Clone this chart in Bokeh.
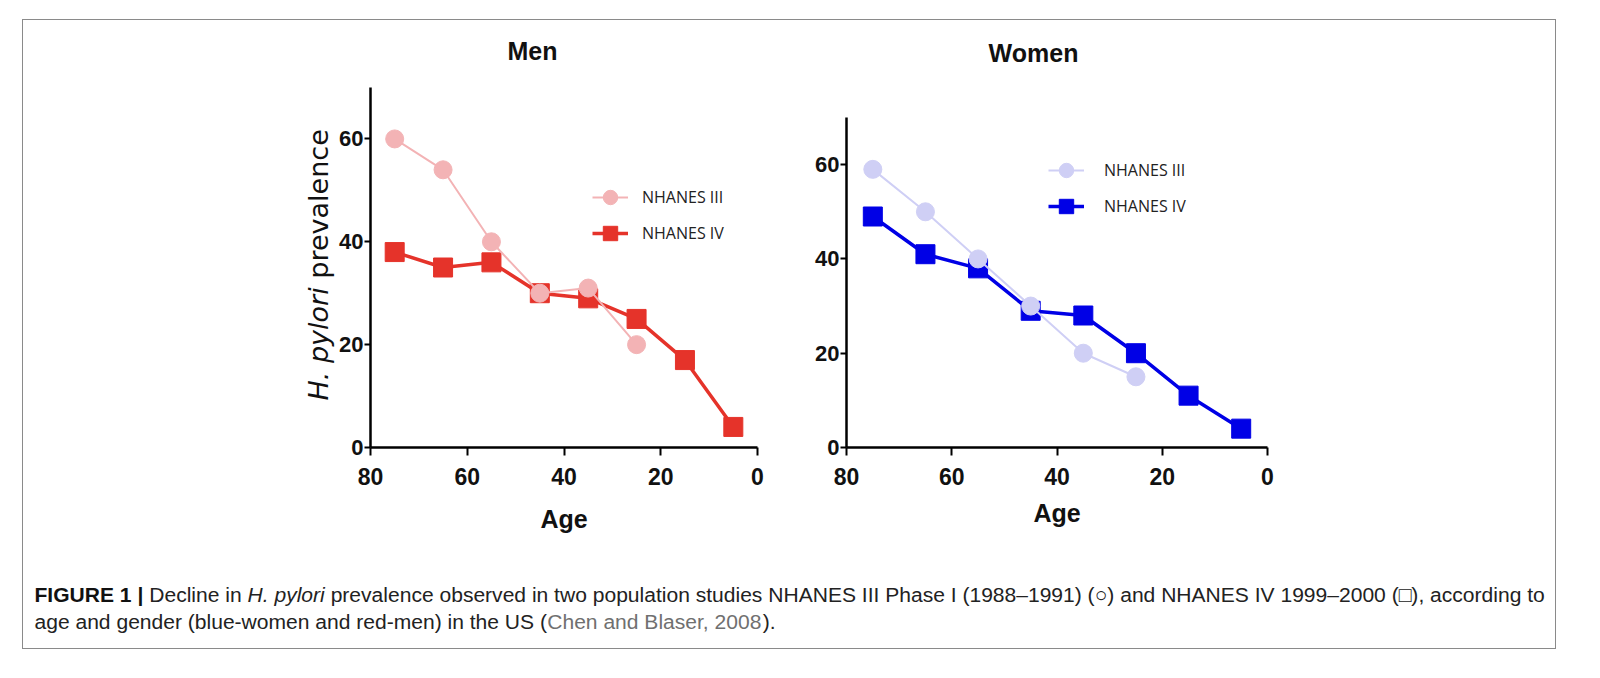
import math
from bokeh.plotting import figure
from bokeh.models import Range1d, FixedTicker, Legend, LegendItem, Label, Spacer
from bokeh.layouts import row, column
from bokeh.embed import file_html
from bokeh.resources import INLINE

# ---------------- data ----------------
ages_iii = [75, 65, 55, 45, 35, 25]
ages_iv = [75, 65, 55, 45, 35, 25, 15, 5]
men_iii = [60, 54, 40, 30, 31, 20]
men_iv = [38, 35, 36, 30, 29, 25, 17, 4]
women_iii = [59, 50, 40, 30, 20, 15]
women_iv = [49, 41, 38, 29, 28, 20, 11, 4]
x_ticks = [80, 60, 40, 20, 0]
y_ticks = [0, 20, 40, 60]
series_names = ["NHANES III", "NHANES IV"]
panel_titles = ["Men", "Women"]
y_title = ["H. pylori", "prevalence"]

TFONT = "Liberation Sans"
FIG_H = 540
BT, BB = 5, 113           # frame top / bottom borders (same for all figures of the row)
FRAME_H = FIG_H - BT - BB


def make_panel(title, v3, v4, c3, c4, geo):
    y_top = 70.0 * FRAME_H / geo["axis_h"]
    p = figure(width=geo["w"], height=FIG_H, output_backend="svg", toolbar_location=None,
               x_range=Range1d(80, 0), y_range=Range1d(0, y_top),
               min_border_left=geo["bl"], min_border_right=geo["br"],
               min_border_top=BT, min_border_bottom=BB)
    p.outline_line_color = None
    p.grid.visible = False
    p.background_fill_color = "white"
    p.border_fill_color = "white"

    for ax in (p.xaxis[0], p.yaxis[0]):
        ax.axis_line_width = 2.5
        ax.axis_line_color = "black"
        ax.major_tick_line_width = 2
        ax.major_tick_line_color = "black"
        ax.major_tick_in = 0
        ax.minor_tick_line_color = None
        ax.major_label_text_font = TFONT
        ax.major_label_text_font_style = "bold"
        ax.major_label_text_color = "#111111"
    p.xaxis.major_label_text_font_size = "23px"
    p.yaxis.major_label_text_font_size = "22px"
    p.xaxis.ticker = FixedTicker(ticks=x_ticks)
    p.yaxis.ticker = FixedTicker(ticks=y_ticks)
    p.yaxis.bounds = (0, 70)
    p.xaxis.major_tick_out = 8
    p.xaxis.major_label_standoff = 12
    p.yaxis.major_tick_out = 6
    p.yaxis.major_label_standoff = 1
    p.xaxis.axis_label = "Age"
    p.xaxis.axis_label_text_font = TFONT
    p.xaxis.axis_label_text_font_size = "25px"
    p.xaxis.axis_label_text_font_style = "bold"
    p.xaxis.axis_label_text_color = "#111111"
    p.xaxis.axis_label_standoff = geo["xlstand"]

    l4 = p.line(ages_iv, v4, line_color=c4, line_width=3.5)
    s4 = p.scatter(ages_iv, v4, marker="square", size=19, fill_color=c4, line_color=c4)
    l3 = p.line(ages_iii, v3, line_color=c3, line_width=2)
    s3 = p.scatter(ages_iii, v3, marker="circle", size=18, fill_color=c3, line_color=c3)

    leg = Legend(items=[LegendItem(label=series_names[0], renderers=[l3, s3]),
                        LegendItem(label=series_names[1], renderers=[l4, s4])],
                 location=geo["legloc"], glyph_width=36, glyph_height=36, spacing=0,
                 padding=0, margin=0, border_line_color=None, background_fill_alpha=0,
                 label_standoff=geo["legstand"], label_text_font="Open Sans",
                 label_text_font_size="16px", label_text_color="#222222")
    p.add_layout(leg)

    p.add_layout(Label(x=geo["tx"], y=geo["ty"], x_units="screen", y_units="screen",
                       text=title, text_align="center", text_baseline="middle",
                       text_font=TFONT, text_font_size="25px", text_font_style="bold",
                       text_color="#111111"))
    return p


men = make_panel(panel_titles[0], men_iii, men_iv, "#f3b3b5", "#e5332a",
                 dict(w=460, bl=31, br=39, axis_h=360, xlstand=17,
                      legloc=(222, 196), legstand=14, tx=162, ty=397))
women = make_panel(panel_titles[1], women_iii, women_iv, "#cfcff5", "#0000e6",
                   dict(w=759, bl=50, br=288, axis_h=330, xlstand=11,
                        legloc=(202, 223), legstand=20, tx=187, ty=395))

# figure holding the rotated y-axis title of the Men panel (italic + regular parts)
ylab = figure(width=313, height=FIG_H, output_backend="svg", toolbar_location=None,
              x_range=Range1d(0, 1), y_range=Range1d(0, 1),
              min_border_left=0, min_border_right=0, min_border_top=BT, min_border_bottom=BB)
ylab.axis.visible = False
ylab.grid.visible = False
ylab.outline_line_color = None
ylab.background_fill_color = "white"
ylab.border_fill_color = "white"

DEJAVU_W = {"H": 752, ".": 318, " ": 318, "p": 635, "y": 592, "l": 278, "o": 612,
            "r": 411, "i": 278}
ylab_fs = 27
off = sum(DEJAVU_W[c] for c in y_title[0] + " ") * ylab_fs / 1000.0
for txt, st, yy in [(y_title[0], "italic", 47), (y_title[1], "normal", 47 + off)]:
    ylab.add_layout(Label(x=295, y=yy, x_units="screen", y_units="screen", text=txt,
                          angle=math.pi / 2, text_align="left", text_baseline="alphabetic",
                          text_font="DejaVu Sans", text_font_size=f"{ylab_fs}px",
                          text_font_style=st, text_color="#111111"))

# ---------------- caption ----------------
HREG = {" ": 278, "(": 333, ")": 333, ",": 278, "-": 333, ".": 278, "|": 260,
        "0": 556, "1": 556, "2": 556, "3": 556, "4": 556, "5": 556, "6": 556, "7": 556,
        "8": 556, "9": 556, "A": 667, "B": 667, "C": 722, "D": 722, "E": 667, "F": 611,
        "G": 778, "H": 722, "I": 278, "N": 722, "P": 667, "R": 722, "S": 667, "U": 722,
        "V": 667, "a": 556, "b": 556, "c": 500, "d": 556, "e": 556, "f": 278, "g": 556,
        "h": 556, "i": 222, "k": 500, "l": 222, "m": 833, "n": 556, "o": 556, "p": 556,
        "r": 333, "s": 500, "t": 278, "u": 556, "v": 500, "w": 722, "y": 500,
        "\u2013": 556, "\u25cb": 604, "\u25a1": 604}
HBOLD = dict(HREG)
HBOLD.update({"|": 280, "F": 611, "I": 278, "G": 778, "U": 722, "R": 722, "E": 667})


def width_em(s, bold=False):
    t = HBOLD if bold else HREG
    return sum(t.get(c, 556) for c in s) / 1000.0


line1 = [("FIGURE 1 | ", "bold", "#111111"), ("Decline in ", "normal", "#222222"),
         ("H. pylori", "italic", "#222222"),
         (" prevalence observed in two population studies NHANES III Phase I (1988\u20131991) (\u25cb) "
          "and NHANES IV 1999\u20132000 (\u25a1), according to", "normal", "#222222")]
line2 = [("age and gender (blue-women and red-men) in the US (", "normal", "#222222"),
         ("Chen and Blaser, 2008", "normal", "#707070"), (").", "normal", "#222222")]

cap_w, cap_h = 1532, 88
cap = figure(width=cap_w, height=cap_h, output_backend="svg", toolbar_location=None,
             x_range=Range1d(0, cap_w), y_range=Range1d(0, cap_h),
             min_border=0, min_border_left=0, min_border_right=0,
             min_border_top=0, min_border_bottom=0)
cap.axis.visible = False
cap.grid.visible = False
cap.outline_line_color = None
cap.background_fill_color = "white"
cap.border_fill_color = "white"

total_em = sum(width_em(s, st == "bold") for s, st, _ in line1)
cap_fs = 1511.0 / total_em


def place(segments, y):
    x = 11.0
    for s, st, col in segments:
        lead = len(s) - len(s.lstrip(" "))
        xs = x + width_em(" " * lead) * cap_fs
        cap.add_layout(Label(x=xs, y=y, x_units="screen", y_units="screen", text=s.strip(" "),
                             text_align="left", text_baseline="middle",
                             text_font="Liberation Sans", text_font_size=f"{cap_fs:.2f}px",
                             text_font_style=st, text_color=col))
        x += width_em(s, st == "bold") * cap_fs


place(line1, 54)
place(line2, 27)

box = column(row(ylab, men, women), cap, styles={"border": "1px solid #8a8a8a"})
layout = row(Spacer(width=22), column(Spacer(height=19), box))

open("out.html", "w").write(file_html(layout, INLINE))
